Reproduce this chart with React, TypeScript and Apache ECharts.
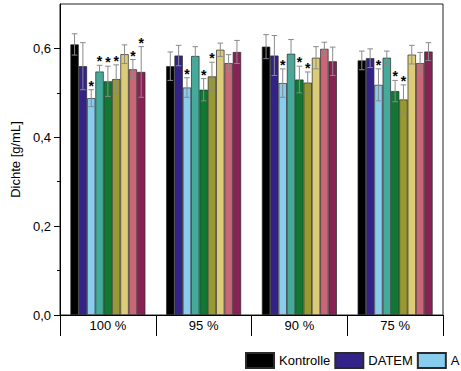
import React, { useEffect, useRef } from "react";
import * as echarts from "echarts";

const categories = ["100 %", "95 %", "90 %", "75 %"];
const seriesNames = ["Kontrolle", "DATEM", "A", "B", "C", "D", "E", "F", "G"];
const legendNames = ["Kontrolle", "DATEM", "A"];
const colors = ["#000000", "#332288", "#88CCEE", "#44AA99", "#117733", "#999933", "#DDCC77", "#CC6677", "#882255"];

const kontrolle = [0.609, 0.56, 0.604, 0.573];
const datem = [0.56, 0.584, 0.584, 0.578];
const sA = [0.488, 0.512, 0.522, 0.518];
const sB = [0.548, 0.583, 0.588, 0.579];
const sC = [0.526, 0.507, 0.53, 0.504];
const sD = [0.531, 0.537, 0.523, 0.485];
const sE = [0.587, 0.597, 0.579, 0.586];
const sF = [0.553, 0.567, 0.599, 0.567];
const sG = [0.547, 0.592, 0.571, 0.593];

const eKontrolle = [0.024, 0.032, 0.027, 0.021];
const eDatem = [0.053, 0.023, 0.045, 0.021];
const eA = [0.019, 0.022, 0.032, 0.036];
const eB = [0.014, 0.021, 0.032, 0.015];
const eC = [0.034, 0.025, 0.03, 0.024];
const eD = [0.032, 0.032, 0.024, 0.033];
const eE = [0.021, 0.015, 0.025, 0.021];
const eF = [0.022, 0.019, 0.015, 0.024];
const eG = [0.057, 0.026, 0.032, 0.02];

const starA = [1, 1, 1, 1];
const starB = [1, 0, 0, 0];
const starC = [1, 1, 1, 1];
const starD = [1, 1, 1, 1];
const starF = [1, 0, 0, 0];
const starG = [1, 0, 0, 0];
const none = [0, 0, 0, 0];

const values = [kontrolle, datem, sA, sB, sC, sD, sE, sF, sG];
const errors = [eKontrolle, eDatem, eA, eB, eC, eD, eE, eF, eG];
const stars = [none, none, starA, starB, starC, starD, none, starF, starG];

const yLabelTicks = [0, 0.2, 0.4, 0.6];
const yMinorTicks = [0.1, 0.3, 0.5];

const CAT_GAP = 0.217;
const FONT = "'Liberation Sans', Arial, sans-serif";

export default function App() {
  const ref = useRef<HTMLDivElement>(null);
  useEffect(() => {
    document.body.style.margin = "0";
    const chart = echarts.init(ref.current!, null, { renderer: "svg" });
    const errData: number[][] = [];
    values.forEach((arr, si) => {
      arr.forEach((v, ci) => {
        errData.push([ci, v, errors[si][ci], si, stars[si][ci]]);
      });
    });
    const n = seriesNames.length;
    const barSeries = seriesNames.map((name, i) => ({
      name,
      type: "bar",
      data: values[i],
      barGap: "0%",
      barCategoryGap: CAT_GAP * 100 + "%",
      itemStyle: { color: colors[i], borderColor: "#2a2a2a", borderWidth: 0.7 },
      emphasis: { disabled: true },
      z: 2,
    }));
    chart.setOption({
      animation: false,
      textStyle: { fontFamily: FONT },
      grid: { left: 60, right: 18, top: 4, bottom: 56, show: true, borderColor: "#222", borderWidth: 1 },
      legend: {
        data: legendNames,
        icon: "rect",
        left: 240,
        top: 347,
        width: 400,
        itemWidth: 28,
        itemHeight: 15,
        itemGap: 4,
        textStyle: { fontSize: 13, color: "#000", fontFamily: FONT },
        selectedMode: false,
      },
      xAxis: [
        {
          type: "category",
          data: categories,
          position: "bottom",
          boundaryGap: true,
          axisLine: { lineStyle: { color: "#000", width: 1 } },
          axisTick: { show: true, length: 21, lineStyle: { color: "#000" } },
          axisLabel: { fontSize: 13, color: "#000", margin: 4, fontFamily: FONT },
        },
        {
          type: "category",
          data: categories,
          position: "bottom",
          offset: 21,
          axisLine: { show: true, lineStyle: { color: "#000", width: 1 } },
          axisTick: { show: false },
          axisLabel: { show: false },
        },
      ],
      yAxis: [
        {
          type: "value",
          min: 0,
          max: 0.7,
          interval: 0.1,
          position: "left",
          name: "Dichte [g/mL]",
          nameLocation: "middle",
          nameGap: 37,
          nameTextStyle: { fontSize: 13, color: "#000", fontFamily: FONT },
          axisLine: { show: true, lineStyle: { color: "#000" } },
          axisTick: { show: true, customValues: yLabelTicks, length: 6, lineStyle: { color: "#000" } },
          axisLabel: {
            customValues: yLabelTicks,
            fontSize: 13,
            color: "#000",
            margin: 9,
            fontFamily: FONT,
            formatter: (v: number) => v.toFixed(1).replace(".", ","),
          },
          splitLine: { show: false },
        },
        {
          type: "value",
          min: 0,
          max: 0.7,
          interval: 0.1,
          position: "left",
          axisLine: { show: false },
          axisTick: { show: true, customValues: yMinorTicks, length: 3, lineStyle: { color: "#000" } },
          axisLabel: { show: false },
          splitLine: { show: false },
        },
      ],
      series: [
        ...barSeries,
        {
          type: "custom",
          name: "err",
          data: errData,
          encode: { x: 0, y: 1 },
          z: 5,
          silent: true,
          renderItem: (params: any, api: any) => {
            const ci = api.value(0);
            const v = api.value(1);
            const e = api.value(2);
            const si = api.value(3);
            const st = api.value(4);
            const c = api.coord([ci, v]);
            const band = api.size([1, 0])[0];
            const total = band * (1 - CAT_GAP);
            const bw = total / n;
            const x = c[0] - total / 2 + (si + 0.5) * bw;
            const yHi = api.coord([ci, v + e])[1];
            const yLo = api.coord([ci, v - e])[1];
            const stroke = { stroke: "#8a8a8a", lineWidth: 1 };
            const children: any[] = [
              { type: "line", shape: { x1: x, y1: yLo, x2: x, y2: yHi }, style: stroke },
              { type: "line", shape: { x1: x - 2.8, y1: yHi, x2: x + 2.8, y2: yHi }, style: stroke },
              { type: "line", shape: { x1: x - 2.8, y1: yLo, x2: x + 2.8, y2: yLo }, style: stroke },
            ];
            if (st) {
              children.push({
                type: "text",
                x: x,
                y: yHi - 11,
                style: {
                  text: "*",
                  fontSize: 14,
                  fontWeight: "bold",
                  fill: "#000",
                  align: "center",
                  verticalAlign: "top",
                  fontFamily: FONT,
                },
              });
            }
            return { type: "group", children };
          },
        },
      ],
    });
    return () => chart.dispose();
  }, []);
  return <div ref={ref} style={{ width: 461, height: 371 }} />;
}
